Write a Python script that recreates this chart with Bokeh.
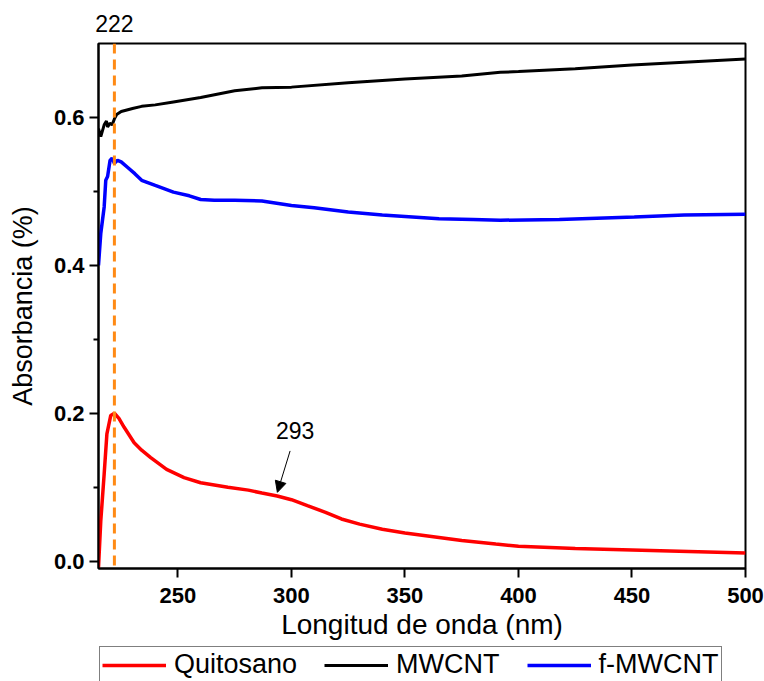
from bokeh.plotting import figure
from bokeh.layouts import column
from bokeh.models import (Range1d, FixedTicker, PrintfTickFormatter, Span, Label,
                          Arrow, NormalHead, Legend, LegendItem, LinearAxis)
from bokeh.embed import file_html
from bokeh.resources import INLINE

# ---------------- data ----------------
quit_x = [215, 216, 217.5, 218.7, 220.4, 222, 224, 226.3, 230.7, 234, 238, 245, 252.7, 260,
          272, 281, 287, 293.7, 300, 307, 315, 322, 330, 340, 350, 360, 375, 390, 400,
          425, 450, 475, 500]
quit_y = [-0.009, 0.054, 0.118, 0.172, 0.197, 0.200, 0.193, 0.181, 0.160, 0.150, 0.140, 0.124,
          0.113, 0.106, 0.100, 0.096, 0.092, 0.088, 0.083, 0.075, 0.066, 0.057, 0.050, 0.043,
          0.038, 0.034, 0.028, 0.023, 0.020, 0.017, 0.015, 0.013, 0.011]

mw_x = [215, 216, 217.5, 218.5, 219, 220, 221, 222, 223, 225, 230, 234, 240, 248, 260, 275,
        287, 300, 325, 350, 375, 392, 400, 425, 450, 475, 500]
mw_y = [0.585, 0.574, 0.590, 0.595, 0.587, 0.592, 0.590, 0.598, 0.604, 0.608, 0.612, 0.615,
        0.617, 0.621, 0.627, 0.636, 0.640, 0.641, 0.647, 0.652, 0.656, 0.661, 0.662, 0.666,
        0.671, 0.675, 0.679]

fmw_x = [215, 216, 217.5, 218.2, 219, 220.1, 221, 222, 223.4, 225, 228, 231, 234, 240, 248,
         255, 260, 266, 275, 287, 300, 310, 325, 340, 350, 365, 380, 392, 418, 451, 473, 500]
fmw_y = [0.400, 0.443, 0.479, 0.515, 0.520, 0.542, 0.545, 0.538, 0.542, 0.540, 0.532, 0.524,
         0.515, 0.508, 0.499, 0.494, 0.489, 0.488, 0.488, 0.487, 0.481, 0.478, 0.472, 0.468,
         0.466, 0.463, 0.462, 0.461, 0.462, 0.4655, 0.468, 0.469]

series_names = ["Quitosano", "MWCNT", "f-MWCNT"]
series_colors = ["#FF0000", "#000000", "#0000FF"]
series_widths = [3.5, 3, 3.5]
x_ticks = [250, 300, 350, 400, 450, 500]
y_ticks = [0.0, 0.2, 0.4, 0.6]
y_minor = [0.1, 0.3, 0.5]

peak_x = 222          # dashed marker + label "222"
shoulder_label = "293"
shoulder_x = 293.8

FONT = "Liberation Sans"
series = [(quit_x, quit_y), (mw_x, mw_y), (fmw_x, fmw_y)]

# ---------------- main plot ----------------
p = figure(width=764, height=644,
           min_border_left=98, min_border_right=19, min_border_top=43, min_border_bottom=76,
           x_range=Range1d(215, 500), y_range=Range1d(-0.01, 0.70),
           output_backend="svg", toolbar_location=None)
p.background_fill_color = "white"
p.border_fill_color = "white"
p.grid.visible = False
p.outline_line_color = "black"
p.outline_line_width = 2

xa = p.xaxis[0]
ya = p.yaxis[0]

for (xs, ys), c, w in zip(series, series_colors, series_widths):
    p.line(xs, ys, line_color=c, line_width=w)

# dashed marker line
p.add_layout(Span(location=peak_x, dimension="height", line_color="#FF8A14",
                  line_width=3, line_dash="10 6"))

# annotation 293 with arrow
p.add_layout(Label(x=301.6, y=0.177, text=shoulder_label, text_align="center",
                   text_baseline="alphabetic", text_font=FONT, text_font_size="23px",
                   text_color="black"))
p.add_layout(Arrow(x_start=299.4, y_start=0.149, x_end=shoulder_x, y_end=0.093,
                   line_color="black", line_width=1,
                   end=NormalHead(size=11, fill_color="black", line_color="black", line_width=1)))

for ax in (xa, ya):
    ax.axis_line_width = 2
    ax.major_tick_line_width = 2
    ax.minor_tick_line_width = 2
    ax.major_tick_in = 0
    ax.major_tick_out = 9
    ax.minor_tick_in = 0
    ax.minor_tick_out = 5
    ax.major_label_text_font = FONT
    ax.major_label_text_font_size = "22px"
    ax.major_label_text_font_style = "bold"
    ax.major_label_text_color = "black"
    ax.axis_label_text_font = FONT
    ax.axis_label_text_font_style = "normal"
    ax.axis_label_text_color = "black"

xa.ticker = FixedTicker(ticks=x_ticks)
xa.minor_tick_line_color = None
xa.axis_label = "Longitud de onda (nm)"
xa.axis_label_text_font_size = "28px"
xa.major_label_standoff = 10
xa.axis_label_standoff = 3

ya.ticker = FixedTicker(ticks=y_ticks, minor_ticks=y_minor)
ya.formatter = PrintfTickFormatter(format="%.1f")
ya.axis_label = "Absorbancia (%)"
ya.axis_label_text_font_size = "27px"
ya.major_label_standoff = 5
ya.axis_label_standoff = 13

# "222" label above the frame via a top axis with a single tick
top_axis = LinearAxis(ticker=FixedTicker(ticks=[peak_x]), axis_line_color=None,
                      major_tick_line_color=None, minor_tick_line_color=None,
                      major_tick_in=0, major_tick_out=0,
                      major_label_standoff=12, major_label_text_font=FONT,
                      major_label_text_font_size="23px", major_label_text_color="black")
p.add_layout(top_axis, "above")

# ---------------- legend strip (below the plot) ----------------
lg = figure(width=764, height=37, min_border=0, x_range=Range1d(0, 1), y_range=Range1d(0, 1),
            x_axis_location=None, y_axis_location=None,
            output_backend="svg", toolbar_location=None)
lg.grid.visible = False
lg.outline_line_color = None
lg.background_fill_color = "white"
lg.border_fill_color = "white"

items = []
for name, (xs, ys), c, w in zip(series_names, series, series_colors, series_widths):
    r = lg.line(xs, ys, line_color=c, line_width=w)   # off-range: only its legend entry shows
    items.append(LegendItem(label=name, renderers=[r]))

legend = Legend(items=items, orientation="horizontal", location=(1, -2),
                label_text_font=FONT, label_text_font_size="27px", label_text_color="black",
                glyph_width=64, label_standoff=8, spacing=27, padding=2, margin=0,
                border_line_color="black", border_line_width=1.5,
                background_fill_color="white", background_fill_alpha=1)
lg.add_layout(legend, "center")

open("out.html", "w").write(file_html(column(p, lg, spacing=0), INLINE))
